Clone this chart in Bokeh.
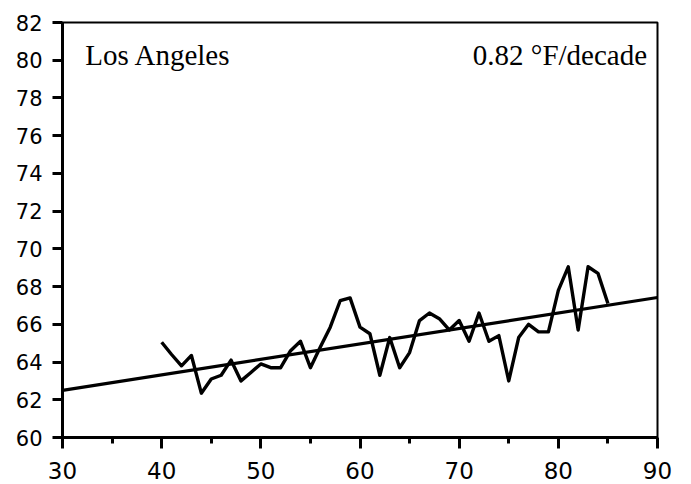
from bokeh.plotting import figure
from bokeh.models import Range1d, FixedTicker, Label
from bokeh.embed import file_html
from bokeh.resources import INLINE

# Data
years = [40, 41, 42, 43, 44, 45, 46, 47, 48, 49,
         50, 51, 52, 53, 54, 55, 56, 57, 58, 59,
         60, 61, 62, 63, 64, 65, 66, 67, 68, 69,
         70, 71, 72, 73, 74, 75, 76, 77, 78, 79,
         80, 81, 82, 83, 84, 85]
temps = [65.05, 64.4, 63.8, 64.35, 62.35, 63.1, 63.3, 64.1, 63.0, 63.45,
         63.9, 63.7, 63.7, 64.6, 65.1, 63.7, 64.8, 65.85, 67.25, 67.4,
         65.85, 65.5, 63.3, 65.3, 63.7, 64.5, 66.2, 66.6, 66.3, 65.7,
         66.2, 65.1, 66.6, 65.1, 65.4, 63.0, 65.3, 66.0, 65.6, 65.6,
         67.8, 69.05, 65.7, 69.05, 68.7, 67.1]
trend_x = [30, 90]
trend_start = 62.5          # °F at x=30
trend_per_decade = 0.82     # °F per decade
trend_y = [trend_start + trend_per_decade * (x - trend_x[0]) / 10 for x in trend_x]

x_ticks = [30, 40, 50, 60, 70, 80, 90]
x_minor = [35, 45, 55, 65, 75, 85]
y_ticks = [60, 62, 64, 66, 68, 70, 72, 74, 76, 78, 80, 82]
city = "Los Angeles"
rate_label = "0.82 °F/decade"

p = figure(width=691, height=484, output_backend="svg", toolbar_location=None,
           x_range=Range1d(30, 90), y_range=Range1d(60, 82),
           min_border_left=62, min_border_right=34,
           min_border_top=22, min_border_bottom=47)
p.background_fill_color = "white"
p.border_fill_color = "white"
p.outline_line_color = "black"
p.outline_line_width = 2
p.xgrid.visible = False
p.ygrid.visible = False

p.line(trend_x, trend_y, line_color="black", line_width=3.2)
p.line(years, temps, line_color="black", line_width=3.4, line_join="round")

xa = p.xaxis[0]
xa.ticker = FixedTicker(ticks=x_ticks, minor_ticks=x_minor)
xa.axis_line_width = 3
xa.axis_line_color = "black"
xa.major_tick_line_color = "black"
xa.minor_tick_line_color = "black"
xa.major_tick_line_width = 3
xa.minor_tick_line_width = 3
xa.major_tick_out = 11
xa.major_tick_in = 0
xa.minor_tick_out = 6
xa.minor_tick_in = 0
xa.major_label_standoff = 13
xa.major_label_text_font = "DejaVu Sans"
xa.major_label_text_font_size = "23px"
xa.major_label_text_color = "black"

ya = p.yaxis[0]
ya.ticker = FixedTicker(ticks=y_ticks, minor_ticks=[])
ya.axis_line_width = 3
ya.axis_line_color = "black"
ya.major_tick_line_color = "black"
ya.major_tick_line_width = 3
ya.major_tick_out = 10
ya.major_tick_in = 0
ya.minor_tick_out = 0
ya.major_label_standoff = 10
ya.major_label_text_font = "DejaVu Sans"
ya.major_label_text_font_size = "21px"
ya.major_label_text_color = "black"

p.add_layout(Label(x=32.3, y=80.3, text=city, text_font="Liberation Serif",
                   text_font_size="29px", text_color="black",
                   text_baseline="alphabetic", text_align="left"))
p.add_layout(Label(x=88.95, y=80.3, text=rate_label, text_font="Liberation Serif",
                   text_font_size="29px", text_color="black",
                   text_baseline="alphabetic", text_align="right"))

open("out.html", "w").write(file_html(p, INLINE))
